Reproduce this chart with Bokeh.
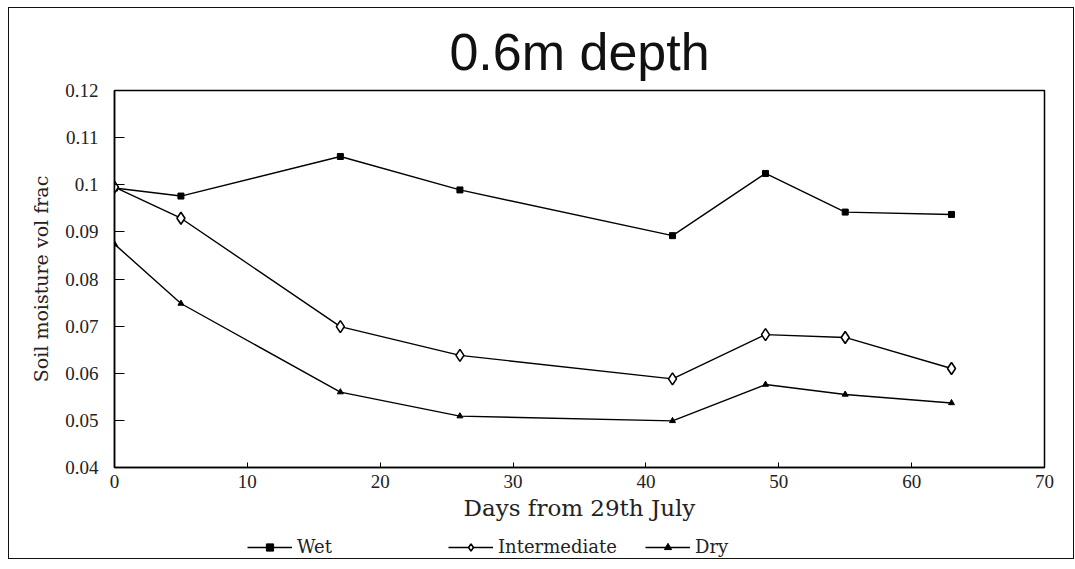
from bokeh.plotting import figure
from bokeh.layouts import column
from bokeh.models import (FixedTicker, Legend, LegendItem, Range1d, InlineStyleSheet)
from bokeh.embed import file_html
from bokeh.resources import INLINE

# Soil moisture at 0.6 m depth, three irrigation treatments
days = [0, 5, 17, 26, 42, 49, 55, 63]
wet = [0.0993, 0.0976, 0.1060, 0.0989, 0.0892, 0.1024, 0.0942, 0.0937]
intermediate = [0.0995, 0.0929, 0.0699, 0.0638, 0.0588, 0.0682, 0.0676, 0.0610]
dry = [0.0874, 0.0748, 0.0560, 0.0509, 0.0499, 0.0576, 0.0555, 0.0537]

x_ticks = [0, 10, 20, 30, 40, 50, 60, 70]
y_ticks = [0.04, 0.05, 0.06, 0.07, 0.08, 0.09, 0.1, 0.11, 0.12]
y_tick_labels = ["0.04", "0.05", "0.06", "0.07", "0.08", "0.09", "0.1", "0.11", "0.12"]

series_names = ["Wet", "Intermediate", "Dry"]
title_text = "0.6m depth"
x_title = "Days from 29th July"
y_title = "Soil moisture vol frac"

W, H = 1075, 569
LEG_H = 37                      # strip under the chart that holds the key
MAIN_H = H - LEG_H
FL, FR, FT, FB = 114, 1044, 90, 467

# thin frame round the whole chart, drawn over the canvases
border_css = InlineStyleSheet(css="""
:host { position: relative; }
:host::after {
  content: "";
  position: absolute;
  left: 8px; top: 7px; width: 1064px; height: 550px;
  border: 1.5px solid #111;
  pointer-events: none;
  z-index: 10;
}
""")

p = figure(width=W, height=MAIN_H, output_backend="svg", toolbar_location=None,
           x_range=Range1d(0, 70), y_range=Range1d(0.04, 0.12),
           min_border_left=FL, min_border_right=W - FR,
           min_border_top=FT, min_border_bottom=MAIN_H - FB,
           title=title_text)
p.xgrid.visible = False
p.ygrid.visible = False
p.background_fill_color = "white"
p.border_fill_color = "white"
p.outline_line_color = "black"
p.outline_line_width = 1.5

p.title.align = "center"
p.title.text_font = "Liberation Sans"
p.title.text_font_size = "52px"
p.title.text_font_style = "normal"
p.title.text_color = "#111111"
p.title.standoff = 19

serif = "Liberation Serif"
serif_wide = "DejaVu Serif"

# axes: inward ticks, serif labels
xa = p.xaxis[0]
xa.ticker = FixedTicker(ticks=x_ticks)
xa.major_tick_in = 5
xa.major_tick_out = 0
xa.minor_tick_line_color = None
xa.axis_line_color = "black"
xa.axis_line_width = 1.5
xa.major_label_text_font = serif
xa.major_label_text_font_size = "19px"
xa.major_label_text_color = "#222222"
xa.major_label_standoff = 7
xa.axis_label = x_title
xa.axis_label_text_font = serif_wide
xa.axis_label_text_font_size = "23px"
xa.axis_label_text_font_style = "normal"
xa.axis_label_text_color = "#222222"
xa.axis_label_standoff = 4

ya = p.yaxis[0]
ya.ticker = FixedTicker(ticks=y_ticks)
ya.major_label_overrides = dict(zip(y_ticks, y_tick_labels))
ya.major_tick_in = 10
ya.major_tick_out = 0
ya.minor_tick_line_color = None
ya.axis_line_color = "black"
ya.axis_line_width = 1.5
ya.major_label_text_font = serif
ya.major_label_text_font_size = "19px"
ya.major_label_text_color = "#222222"
ya.major_label_standoff = 16
ya.axis_label = y_title
ya.axis_label_text_font = serif_wide
ya.axis_label_text_font_size = "19px"
ya.axis_label_text_font_style = "normal"
ya.axis_label_text_color = "#222222"
ya.axis_label_standoff = 10

# series styles: filled square, open diamond, filled triangle
styles = [
    dict(marker="square", size=6, fill_color="black", line_width=1.0),
    dict(marker="diamond", size=12, fill_color="white", line_width=1.6),
    dict(marker="triangle", size=6, fill_color="black", line_width=1.0),
]
all_series = [wet, intermediate, dry]
lw = 1.4
for ys, st in zip(all_series, styles):
    p.line(days, ys, line_color="black", line_width=lw)
    p.scatter(days, ys, line_color="black", **st)

# key strip under the chart; its ranges keep the series out of view so
# only the legend entries show. The column aligns its frame with the chart's.
k = figure(width=W, height=LEG_H, output_backend="svg", toolbar_location=None,
           x_range=Range1d(0, 70), y_range=Range1d(10, 11),
           x_axis_type=None, y_axis_type=None,
           min_border_left=FL, min_border_right=W - FR,
           min_border_top=0, min_border_bottom=0)
k.xgrid.visible = False
k.ygrid.visible = False
k.outline_line_color = None
k.background_fill_color = "white"
k.border_fill_color = "white"

key_offsets = [133, 334, 531]   # pixels from the frame's left edge
for name, ys, st, kx in zip(series_names, all_series, styles, key_offsets):
    rl = k.line(days, ys, line_color="black", line_width=lw)
    rm = k.scatter(days, ys, line_color="black", **st)
    lg = Legend(items=[LegendItem(label=name, renderers=[rl, rm])],
                location=(kx, 12), orientation="horizontal",
                glyph_width=45, glyph_height=18, label_standoff=5,
                label_text_font=serif_wide, label_text_font_size="18px",
                label_text_color="#222222", padding=0, margin=0,
                border_line_color=None, background_fill_alpha=0)
    k.add_layout(lg, "center")

page = column(p, k, spacing=0, stylesheets=[border_css])

open("out.html", "w").write(file_html(page, INLINE))
